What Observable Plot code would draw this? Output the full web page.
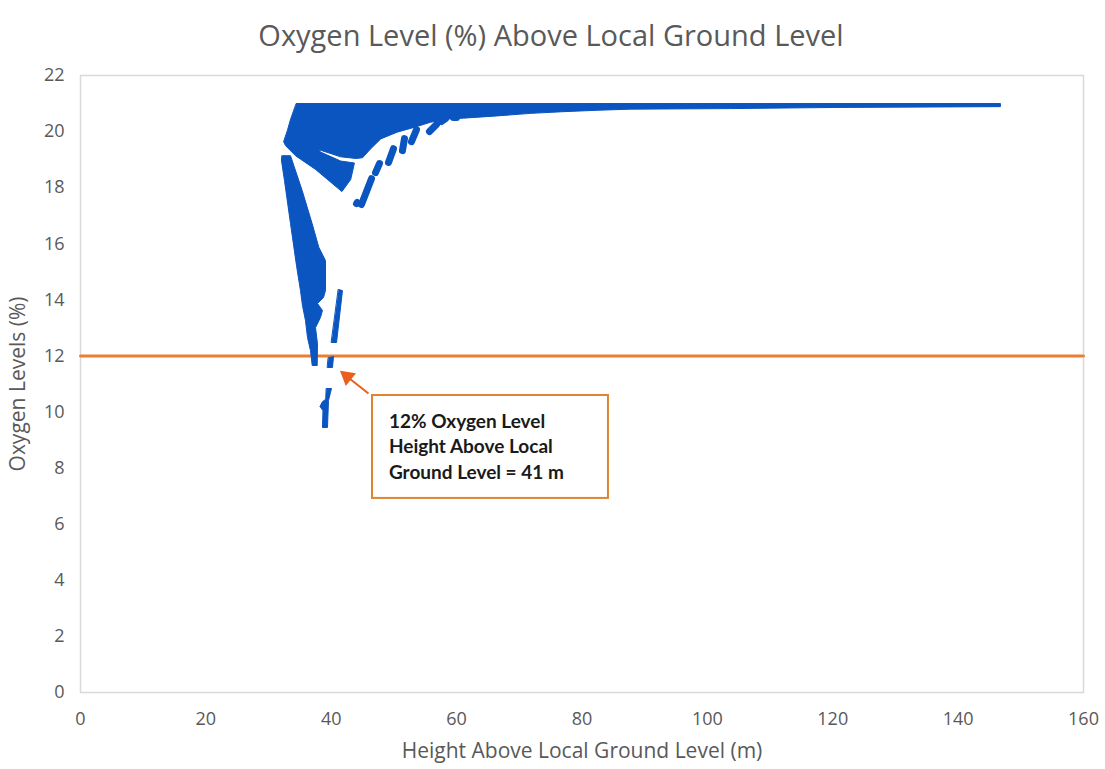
<!DOCTYPE html>
<html>
<head>
<meta charset="utf-8">
<script src="https://cdn.jsdelivr.net/npm/d3@7"></script>
<script src="https://cdn.jsdelivr.net/npm/@observablehq/plot@0.6"></script>
<style>
  html, body { margin: 0; padding: 0; background: #fff; }
  #chart svg { display: block; }
</style>
</head>
<body>
<div id="chart"></div>
<script>
// ---- Data ----
const chartTitle = "Oxygen Level (%) Above Local Ground Level";
const xLabel = "Height Above Local Ground Level (m)";
const yLabel = "Oxygen Levels (%)";
const xTicks = [0, 20, 40, 60, 80, 100, 120, 140, 160];
const yTicks = [0, 2, 4, 6, 8, 10, 12, 14, 16, 18, 20, 22];

// Dense scatter cloud outlines: [height (m), oxygen (%)]
const upperCloud = [
  [34.45, 21.0], [146.75, 21.0], [146.75, 20.89], [120.1, 20.86], [103.7, 20.82],
  [87.7, 20.80], [82.4, 20.76], [77.0, 20.71], [71.8, 20.65], [66.5, 20.56],
  [61.1, 20.48], [58.5, 20.45], [55.8, 20.33], [53.2, 20.15], [50.5, 19.98],
  [47.9, 19.74], [46.3, 19.39], [45.0, 19.07], [44.0, 19.04], [41.5, 19.10],
  [37.96, 19.36], [38.3, 19.27], [41.5, 18.95], [43.7, 18.88], [43.1, 18.29],
  [41.7, 17.86], [37.5, 18.65], [34.3, 19.14], [32.7, 19.5], [32.4, 19.64],
  [33.0, 20.04], [33.5, 20.43]
];
const leftLeg = [
  [32.17, 19.14], [33.5, 19.14], [35.36, 17.9], [36.96, 16.71], [38.01, 15.88],
  [39.08, 15.4], [39.08, 14.33], [38.76, 14.08], [37.8, 13.87], [38.6, 13.62],
  [38.28, 13.37], [37.49, 13.01], [37.8, 12.44], [37.76, 11.66], [36.96, 11.66],
  [36.69, 12.19], [36.21, 12.66], [35.89, 13.26], [35.41, 13.8], [35.09, 14.33],
  [34.46, 15.22], [33.5, 16.72], [32.54, 18.25], [32.06, 18.97]
];
const rightLeg = [
  [41.16, 14.37], [41.79, 14.33], [40.84, 12.48], [40.04, 12.48]
];
const nearThreshold = [
  [39.56, 11.94], [40.36, 11.98], [40.2, 11.59], [39.4, 11.59]
];
const lowTail = [
  [39.24, 10.84], [40.04, 10.84], [39.88, 10.7], [39.56, 10.41], [39.4, 9.45],
  [38.6, 9.45], [38.68, 10.05], [38.2, 10.2], [38.6, 10.37], [39.08, 10.45]
];
// Chain of point clusters below the upper cloud: [x1, y1, x2, y2]
const clusterChain = [
  [44.03, 17.43, 44.15, 17.47],
  [44.82, 17.40, 46.42, 18.32],
  [47.06, 18.54, 47.69, 18.86],
  [49.13, 18.90, 49.93, 19.39],
  [51.36, 19.32, 51.68, 19.75],
  [52.80, 19.64, 53.60, 20.07],
  [55.67, 20.00, 56.79, 20.25],
  [57.59, 20.36, 58.22, 20.46],
  [59.50, 20.50, 59.98, 20.50]
];

// 12% oxygen reference line
const thresholdY = 12;
const thresholdX = [0, 160];

// Annotation
const noteText = ["12% Oxygen Level", "Height Above Local", "Ground Level = 41 m"];
const noteBox = {x1: 46.58, x2: 84.22, y1: 6.92, y2: 10.59};
const noteTextAt = {x: 49.2, y: 8.82};
const noteArrow = {x1: 45.94, y1: 10.66, x2: 42.3, y2: 11.30};
const noteArrowHead = {x: 42.55, y: 11.26};

// ---- Build tables ----
const shapes = {upperCloud, leftLeg, rightLeg, nearThreshold, lowTail};
const polyRows = Object.entries(shapes).flatMap(([name, pts]) =>
  pts.map(([x, y]) => ({shape: name, x, y})));
const chainRows = clusterChain.map(([x1, y1, x2, y2]) => ({x1, y1, x2, y2}));
const lineRows = thresholdX.map(x => ({x, y: thresholdY}));

const blue = "#0A55C0";
const orange = "#ED7D31";
const font = "'Open Sans', 'Liberation Sans', sans-serif";

const chart = Plot.plot({
  width: 1105,
  height: 769,
  marginLeft: 80,
  marginRight: 22,
  marginTop: 75,
  marginBottom: 77,
  style: {fontFamily: font, fontSize: "16px", color: "#595959", background: "#fff"},
  x: {domain: [0, 160], label: null},
  y: {domain: [0, 22], label: null},
  marks: [
    Plot.frame({stroke: "#D9D9D9", strokeWidth: 1.5}),
    Plot.axisX({ticks: xTicks, tickSize: 0, tickPadding: 20, fontSize: 18, label: null}),
    Plot.axisY({ticks: yTicks, tickSize: 0, tickPadding: 16, fontSize: 18, label: null}),
    Plot.line(lineRows, {x: "x", y: "y", stroke: orange, strokeWidth: 3}),
    Plot.line(polyRows, {x: "x", y: "y", z: "shape", fill: blue, stroke: blue, strokeWidth: 1, curve: "linear-closed"}),
    Plot.link(chainRows, {x1: "x1", y1: "y1", x2: "x2", y2: "y2", stroke: blue, strokeWidth: 7, strokeLinecap: "round"}),
    Plot.rect([noteBox], {x1: "x1", x2: "x2", y1: "y1", y2: "y2", fill: "white", stroke: "#DD8530", strokeWidth: 2}),
    Plot.text([noteText.join("\n")], {x: noteTextAt.x, y: noteTextAt.y, textAnchor: "start", lineAnchor: "middle", lineHeight: 1.34, fontSize: 19, fontWeight: 700, fill: "#1a1a1a", fontFamily: "Lato, 'Open Sans', sans-serif"}),
    Plot.link([noteArrow], {x1: "x1", y1: "y1", x2: "x2", y2: "y2", stroke: "#E8601C", strokeWidth: 2}),
    Plot.dot([noteArrowHead], {x: "x", y: "y", symbol: "triangle", r: 6, fill: "#E8601C", stroke: "none", rotate: -51}),
    Plot.text([chartTitle], {frameAnchor: "top", dx: -31, dy: -50, fontSize: 29, fill: "#595959"}),
    Plot.text([xLabel], {frameAnchor: "bottom", dy: 65, fontSize: 21, fill: "#595959"}),
    Plot.text([yLabel], {frameAnchor: "left", dx: -62, rotate: -90, textAnchor: "middle", fontSize: 21, fill: "#595959"})
  ]
});
document.getElementById("chart").appendChild(chart);
</script>
</body>
</html>
